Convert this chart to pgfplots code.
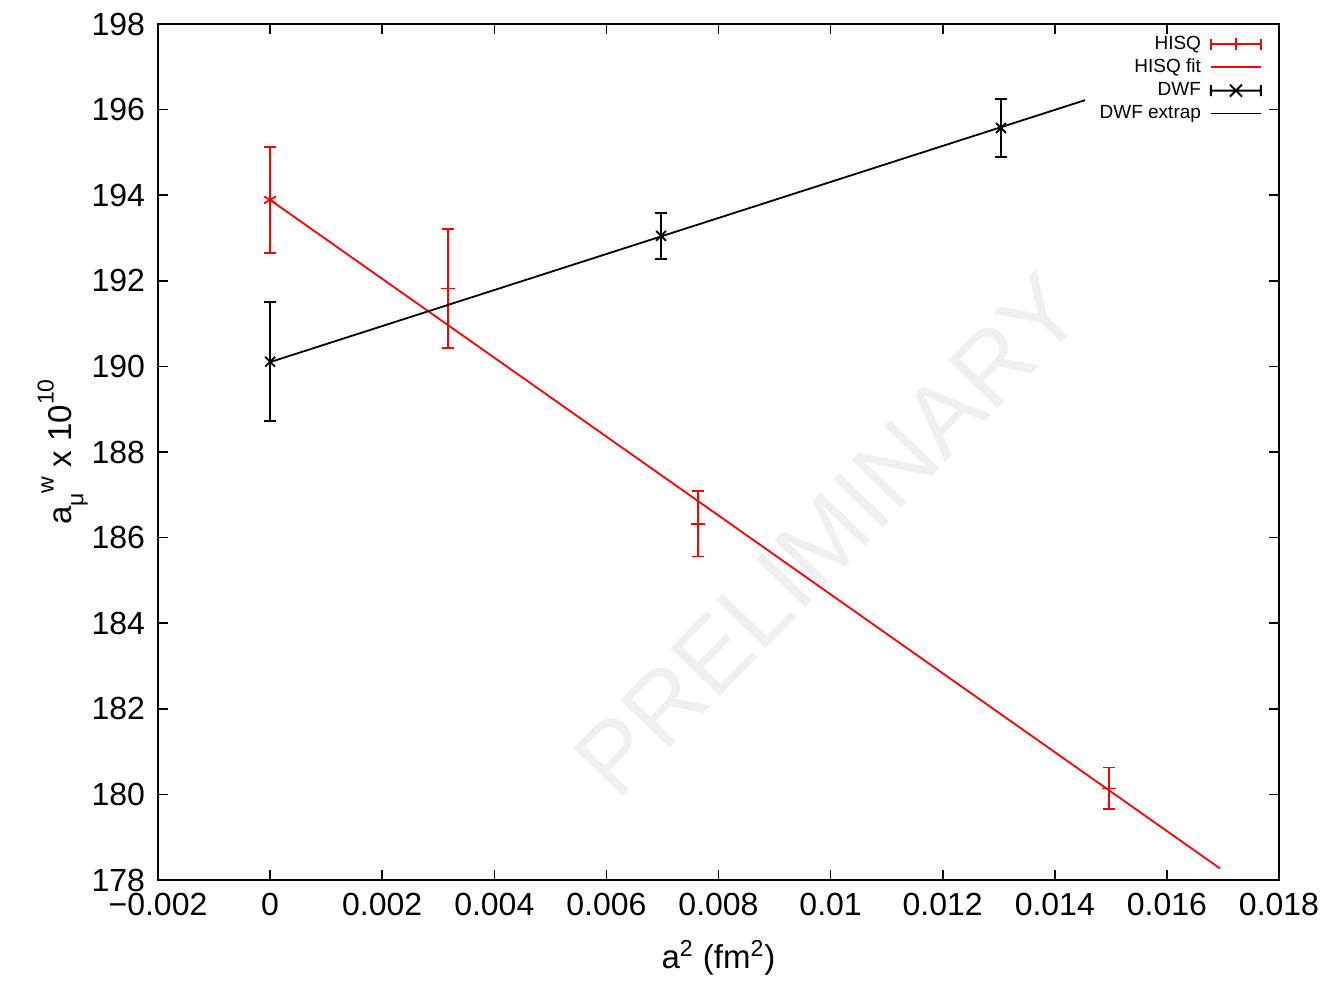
\documentclass[border=0pt]{standalone}
\usepackage{fontspec}
\setmainfont{Liberation Sans}
\usepackage{pgfplots}
\pgfplotsset{compat=1.18}
\pgfplotstableread{
x y e
0.003174 191.82 1.39
0.00764 186.32 0.76
0.014973 180.14 0.49
}\hisq
\pgfplotstableread{
x y e
0 193.89 1.24
}\hisqzero
\pgfplotstableread{
x y e
0 190.11 1.39
0.006976 193.05 0.54
0.01304 195.57 0.68
}\dwf
\begin{document}
\begin{tikzpicture}
\path[use as bounding box] (-79pt,-60pt) rectangle (588pt,440pt);
\begin{axis}[
  at={(0,0)}, anchor=south west, scale only axis,
  width=560.5pt, height=428pt,
  xmin=-0.002, xmax=0.018, ymin=178, ymax=198,
  xtick={-0.002,0,0.002,0.004,0.006,0.008,0.01,0.012,0.014,0.016,0.018},
  xticklabels={−0.002,0,0.002,0.004,0.006,0.008,0.01,0.012,0.014,0.016,0.018},
  ytick={178,180,182,184,186,188,190,192,194,196,198},
  yticklabels={178,180,182,184,186,188,190,192,194,196,198},
  scaled x ticks=false,
  tick align=inside, major tick length=5pt,
  tick style={black, line width=0.8pt},
  axis line style={line width=1pt},
  ticklabel style={font=\fontsize{16}{18}\selectfont},
  yticklabel style={xshift=-3pt},
  xticklabel style={yshift=-3pt},
  xlabel={a\textsuperscript{2} (fm\textsuperscript{2})},
  ylabel={a\raisebox{-0.35em}{\fontsize{11.5}{12}\selectfont μ}\raisebox{0.55em}{\fontsize{11.5}{12}\selectfont w} x 10\raisebox{0.55em}{\fontsize{11.5}{12}\selectfont 10}},
  label style={font=\fontsize{16.5}{18}\selectfont},
  xlabel style={at={(axis description cs:0.5,0)}, anchor=center, yshift=-39pt},
  ylabel style={at={(axis description cs:-0.085,0.5)}, anchor=center},
  legend plot pos=right,
  legend cell align=right,
  legend style={at={(axis description cs:0.985,0.99)}, anchor=north east,
    draw=none, fill=none, inner sep=0pt, row sep=0.4pt, column sep=3pt,
    font=\fontsize{9.5}{11}\selectfont,
    nodes={inner sep=1.5pt}},
]
\node[rotate=46, text=black!6, font=\fontsize{50}{50}\selectfont] at (axis cs:0.00995,186.06) {PRELIMINARY};

\addplot[red, line width=0.9pt, only marks, mark=+, mark size=3.5pt,
  legend image code/.code={
    \draw[red,line width=0.9pt] (0pt,0pt)--(25pt,0pt) (0pt,-2.75pt)--(0pt,2.75pt) (25pt,-2.75pt)--(25pt,2.75pt) (12.5pt,-3pt)--(12.5pt,3pt);},
  error bars/.cd, y dir=both, y explicit, error mark=-,
  error bar style={line width=0.9pt},
  error mark options={rotate=90, mark size=3pt, line width=0.9pt, red}]
  table[x=x, y=y, y error=e] {\hisq};
\addlegendentry{HISQ}

\addplot[red, line width=0.9pt, legend image code/.code={\draw[red,line width=0.9pt] (0pt,0pt)--(25pt,0pt);}]
  coordinates {(0,193.89) (0.016948,178.27)};
\addlegendentry{HISQ fit}

\addplot[black, line width=0.9pt, only marks, mark=x, mark size=3.5pt,
  legend image code/.code={
    \draw[black,line width=0.9pt] (0pt,0pt)--(25pt,0pt) (0pt,-2.75pt)--(0pt,2.75pt) (25pt,-2.75pt)--(25pt,2.75pt) (9.5pt,-3pt)--(15.5pt,3pt) (9.5pt,3pt)--(15.5pt,-3pt);},
  error bars/.cd, y dir=both, y explicit, error mark=-,
  error bar style={line width=0.9pt},
  error mark options={rotate=90, mark size=3pt, line width=0.9pt, black}]
  table[x=x, y=y, y error=e] {\dwf};
\addlegendentry{DWF}

\addplot[black, line width=0.9pt, legend image code/.code={\draw[black,line width=0.9pt] (0pt,0pt)--(25pt,0pt);}]
  coordinates {(0,190.10) (0.014539,196.22)};
\addlegendentry{DWF extrap}

\addplot[red, line width=0.9pt, only marks, mark=asterisk, mark size=3.5pt, forget plot,
  error bars/.cd, y dir=both, y explicit, error mark=-,
  error bar style={line width=0.9pt},
  error mark options={rotate=90, mark size=3pt, line width=0.9pt, red}]
  table[x=x, y=y, y error=e] {\hisqzero};
\end{axis}
\end{tikzpicture}
\end{document}
